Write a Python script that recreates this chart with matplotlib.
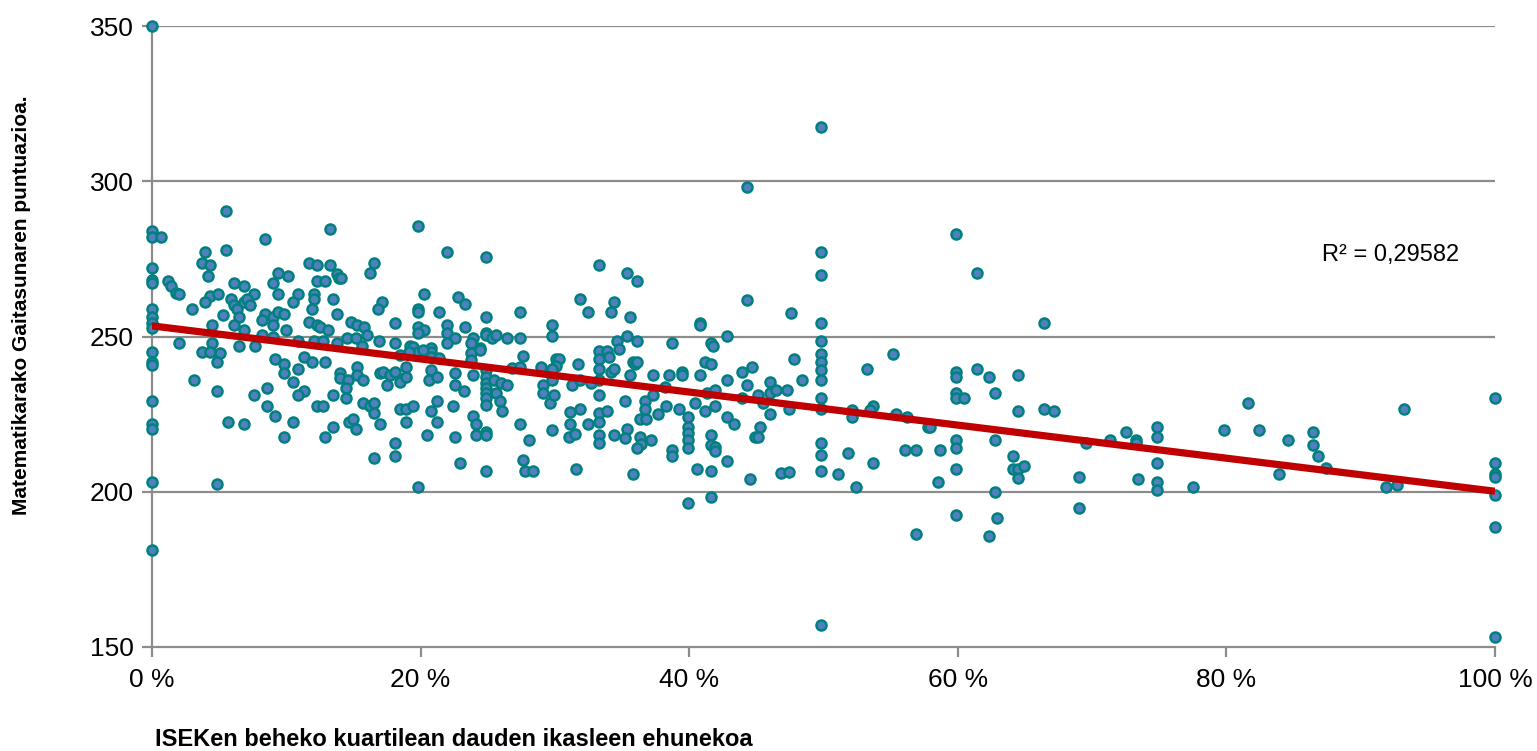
import numpy as np
import matplotlib
matplotlib.use("Agg")
import matplotlib.pyplot as plt
from matplotlib import font_manager

# ---------------- data (x = % of students in lowest ISEK quartile, y = maths score)
x_0 = [0]*18
y_0 = [350, 284, 282, 272.2, 268.2, 267.3, 258.8, 256.4, 254.2, 252.6, 245.1, 241.7, 240.8,
       229.3, 221.8, 220.1, 203.2, 181.2]

pts_a = [(0.65,282),(13.25,284.7),(8.4,281.3),(5.5,290.5),(3.95,277.2),(5.5,278),(3.7,273.8),(4.3,272.9),
 (4.15,269.5),(1.2,268),(1.45,266.3),(1.8,263.9),(2.0,263.7),(11.7,273.8),(12.3,272.9),(13.25,272.9),
 (9.4,270.4),(10.15,269.5),(12.3,268),(12.9,268),(13.75,270),(6.1,267.1),(6.85,266.3),(9.0,267.1),
 (7.6,263.7),(9.4,263.7),(10.9,263.7),(12.05,263.7),(12.05,262),(13.45,262.2),(4.3,263),(4.95,263.7),
 (3.95,261.2),(5.9,262.2),(6.1,260.1),(6.3,258.8),(6.5,256.4),(6.85,261.2),(7.05,262.2),(7.3,260.1),
 (10.5,261.2),(11.9,258.8),(2.95,258.8),(5.3,256.9),(8.4,257.2),(9.0,256.4),(9.4,258),(9.8,257.2),
 (8.2,255.3),(9.0,253.7),(6.1,253.7),(4.5,253.7),(6.85,252.1),(9.95,252.1),(11.7,254.6),(12.25,253.7),
 (12.5,253),(13.1,252.1),(13.75,257.2),(8.2,250.4),(9.0,249.7),(10.9,248.6),(12.05,248.6),(12.7,248.6),
 (2.0,247.8),(4.5,247.8),(3.7,245.1),(4.3,245.1),(5.05,244.6),(6.45,247),(7.65,247),(13.75,247.8),
 (4.85,241.8),(3.15,236),(4.85,232.5),(5.65,222.6),(6.85,221.8),(7.6,231),(8.55,233.5),(8.55,227.6),
 (9.15,224.4),(9.15,242.8),(9.8,241.1),(9.8,238.3),(10.9,239.4),(10.5,235.2),(11.3,232.5),(10.9,231),
 (11.3,243.5),(11.9,241.8),(12.85,241.8),(12.25,227.6),(12.7,227.6),(13.45,231),(10.5,222.6),(9.8,217.5),
 (12.85,217.5),(13.45,220.9),(14.0,238.3),(14.0,236.5),(4.85,202.4)]

pts_b = [(19.8,285.6),(21.95,277.2),(24.9,275.5),(13.9,268.7),(14.1,268.7),(16.55,273.8),(16.2,270.4),
 (17.1,261.2),(16.85,258.8),(20.25,263.7),(22.75,262.8),(23.3,260.4),(19.8,258.8),(19.8,257.8),(21.4,257.8),
 (18.1,254.4),(24.9,256.3),(27.4,257.8),(14.8,254.6),(15.25,253.7),(15.8,253),(16.0,250.4),(19.8,253),
 (20.25,252.1),(19.8,251.2),(22.0,253.7),(22.0,251.2),(23.3,253),(22.55,249.5),(23.9,249.5),(23.75,247.8),
 (24.9,251.2),(24.9,250.4),(25.3,249.5),(25.65,250.4),(26.45,249.5),(27.4,249.5),(22.0,247.8),(16.9,248.6),
 (18.1,247.8),(14.5,249.5),(15.2,249.5),(15.6,247),(19.2,247),(19.45,246.7),(19.8,245.1),(20.8,246.2),
 (24.45,246.2),(23.75,244.6),(27.65,243.8),
 (14.6,236),(15.25,240.3),(15.25,237.6),(15.7,236),(14.45,233.3),(14.45,230.1),(17.0,238.1),(17.2,238.7),
 (17.7,237.6),(18.1,238.7),(18.45,235.2),(18.9,237),(18.9,240.3),(17.5,234.4),(15.7,228.7),(16.2,227.6),
 (16.5,228.7),(16.5,225.3),(17.0,221.8),(14.7,222.6),(15.0,223.4),(15.2,220.1),(18.45,226.8),(18.9,226.8),
 (19.45,227.6),(18.9,222.6),(18.1,215.8),(18.1,211.5),(16.55,210.8),(19.8,201.6),(20.8,245.1),(20.8,243.3),
 (21.4,243),(20.8,239.2),(20.6,236),(21.2,237),(18.45,244),(19.1,245.1),(20.2,245.6),(21.2,229.2),
 (20.8,225.9),(21.2,222.6),(20.45,218.4),(22.4,227.6),(22.55,217.5),(22.9,209.2),(22.55,238.3),(22.55,234.4),
 (23.2,232.5),(23.75,242.5),(23.9,237.6),(24.45,245.6),(24.9,239.2),(24.9,237),(24.9,234.9),(24.9,233.3),
 (24.9,231.7),(24.9,230.1),(24.9,227.9),(25.45,236),(26.0,234.9),(26.4,234.4),(25.65,231.7),(25.9,229.3),
 (26.05,225.9),(23.9,224.4),(24.1,221.8),(24.1,218.4),(24.9,219.3),(24.9,218.4),(24.9,206.7),(27.4,221.8),
 (27.6,210.2),(27.8,206.7),(26.8,239.7),(27.4,240.3),(28.1,216.7)]

pts_c = [(33.25,272.9),(35.4,270.4),(36.15,267.9),(31.85,262),(34.4,261.2),(32.5,257.9),(34.2,257.9),
 (35.6,256.2),(29.75,253.7),(29.75,250.3),(40.8,254.4),(40.8,253.6),(34.6,248.6),(35.4,250.3),(36.15,248.6),
 (34.8,246.1),(38.7,247.8),(41.6,247.8),(41.8,246.9),(33.25,245.3),(33.85,245.3),(34.05,243.5),(33.25,242.8),
 (30.1,242.8),(30.3,242.8),(30.1,240.5),(28.95,240.3),(29.75,239.4),(31.7,241),(33.25,239.4),(34.2,238.6),
 (34.4,239.4),(35.6,237.7),(35.8,241.9),(36.0,241),(36.15,241.9),(37.3,237.7),(38.5,237.7),(39.5,238.6),
 (39.5,237.7),(40.8,237.7),(41.2,241.9),(41.6,241),
 (29.15,234.4),(29.15,231.7),(29.6,228.5),(29.95,231),(29.75,236),(31.3,234.4),(31.85,236),(32.7,234.9),
 (33.25,236),(33.25,231.2),(33.25,225.3),(33.25,222.6),(33.85,226.1),(33.25,218.3),(33.25,215.8),(34.4,218.3),
 (31.1,225.7),(31.85,226.8),(31.1,221.7),(32.5,221.7),(31.05,217.7),(31.5,218.5),(29.75,219.9),(28.4,206.6),
 (31.55,207.4),(35.2,229.2),(35.4,220.1),(35.2,217.4),(36.3,223.3),(36.8,223.3),(36.3,217.7),(36.4,215.4),
 (36.1,214),(37.15,216.7),(36.7,229.3),(36.7,226.7),(35.8,205.7),(37.3,231.2),(38.2,233.6),(37.7,224.9),
 (38.3,227.6),(39.25,226.7),(39.9,224.2),(40.45,228.5),(41.2,225.9),(41.95,227.6),(38.7,213.4),(38.7,211.5),
 (39.9,221),(39.9,218.8),(39.9,216.7),(39.9,214),(41.6,218.3),(41.6,215.1),(41.95,214.3),(41.95,213.2),
 (40.6,207.4),(41.6,206.6),(39.9,196.5),(41.6,198.2),(41.3,231.7),(41.9,232.8)]

pts_d = [(44.3,261.8),(47.6,257.7),(49.8,254.4),(42.8,250.3),(49.8,248.6),(49.8,244.4),(49.8,241.8),
 (49.8,239.3),(49.8,236),(49.8,230.1),(49.8,226.5),(47.8,242.7),(55.2,244.4),(53.25,239.4),(43.9,238.6),
 (44.7,240.3),(42.8,236),(44.3,234.3),(45.1,231),(46.05,235.2),(46.05,231.8),(46.45,232.7),(47.25,232.7),
 (48.4,236),(43.9,230.1),(45.5,228.5),(47.4,226.6),(46.05,225.1),(42.8,224.2),(43.35,221.7),(45.3,221),
 (44.9,217.5),(45.1,217.5),(42.8,209.9),(44.5,204),(46.85,205.9),(47.4,206.5),(49.8,215.8),(49.8,211.7),
 (49.8,206.6),(51.1,205.8),(51.85,212.4),(52.1,226.3),(52.1,224.2),(53.65,227.6),(53.45,226.3),(53.65,209.2),
 (52.45,201.6),(55.4,225.2),(56.2,224),(56.1,213.4),
 (44.3,298.1),(49.8,317.5),(49.8,277.2),(49.8,269.8),(49.8,157.1)]

pts_e = [(59.85,283),(61.4,270.4),(66.45,254.4),(59.85,238.6),(59.85,236.9),(61.4,239.4),(62.35,236.9),
 (64.5,237.7),(59.85,231.9),(59.85,230.1),(60.45,230.1),(62.75,231.9),(64.5,225.9),(66.45,226.8),(67.2,225.9),
 (57.75,221),(57.9,220.7),(56.9,213.4),(58.65,213.4),(59.85,216.7),(59.85,214),(62.75,216.7),(59.85,207.4),
 (58.5,203.2),(64.1,211.6),(64.1,207.4),(64.5,207.4),(64.9,208.3),(64.5,204.3),(69.0,204.9),(62.75,199.9),
 (69.0,194.9),(59.85,192.4),(62.95,191.5),(56.9,186.5),(62.35,185.7),(69.55,215.6)]

pts_f = [(81.6,228.5),(93.25,226.8),(100,230.1),(79.85,220),(82.4,220),(74.8,220.9),(74.8,217.5),
 (72.5,219.2),(73.3,216.7),(73.3,215.8),(71.35,216.7),(84.55,216.7),(86.45,219.2),(86.45,215),(86.85,211.6),
 (87.45,207.5),(74.8,209.2),(74.8,203.2),(74.8,200.5),(73.45,204.1),(77.5,201.5),(83.9,205.7),(91.9,201.5),
 (92.7,202.3),(100,209.2),(100,205.7),(100,204.8),(100,198.8),(100,188.8),(100,153.2)]

r2_label = "R² = 0,29582"
x_ticks = [0, 20, 40, 60, 80, 100]
x_ticklabels = ["0 %", "20 %", "40 %", "60 %", "80 %", "100 %"]
y_ticks = [150, 200, 250, 300, 350]
x_title = "ISEKen beheko kuartilean dauden ikasleen ehunekoa"
y_title = "Matematikarako Gaitasunaren puntuazioa."

# ---------------- assemble
all_pts = pts_a + pts_b + pts_c + pts_d + pts_e + pts_f
xs = np.array(x_0 + [p[0] for p in all_pts], dtype=float)
ys = np.array(y_0 + [p[1] for p in all_pts], dtype=float)

names = {f.name for f in font_manager.fontManager.ttflist}
narrow = ['Liberation Sans Narrow'] if 'Liberation Sans Narrow' in names else []
plt.rcParams['font.family'] = ['Liberation Sans', 'DejaVu Sans']

W, H = 1537, 751
fig = plt.figure(figsize=(W/100, H/100), dpi=100)
ax = fig.add_axes([152/W, 1-647/H, (1495-152)/W, (647-26)/H])

grid_c = '#8c8c8c'
ax.set_xlim(0, 100)
ax.set_ylim(150, 350)
for yv in y_ticks[1:]:
    ax.axhline(yv, color=grid_c, lw=1.6, zorder=1)

for s in ['top', 'right']:
    ax.spines[s].set_visible(False)
for s in ['left', 'bottom']:
    ax.spines[s].set_color(grid_c)
    ax.spines[s].set_linewidth(1.6)

ax.set_xticks(x_ticks)
ax.set_xticklabels(x_ticklabels, fontsize=19)
ax.set_yticks(y_ticks)
ax.set_yticklabels([str(v) for v in y_ticks], fontsize=19)
ax.tick_params(axis='both', color=grid_c, width=1.6, length=7, direction='out')
ax.tick_params(axis='x', pad=8)
ax.tick_params(axis='y', pad=6)

ax.scatter(xs, ys, s=52, facecolor='#4f81bd', edgecolor='#00807f', linewidths=1.8,
           zorder=3, clip_on=False)

slope, intercept = np.polyfit(xs, ys, 1)
xl = np.array([0, 100])
ax.plot(xl, intercept + slope*xl, color='#c00000', lw=5.2, zorder=4, solid_capstyle='butt')

ax.text(1322/W, 1-255/H, r2_label, transform=fig.transFigure, fontsize=17, va='center', ha='left')

fig.text(22/W, 1-(90+520)/2/H, y_title, rotation=90, ha='center', va='center',
         fontsize=15, fontweight='bold', family=narrow + ['Liberation Sans', 'DejaVu Sans'])
fig.text(155/W, 1-740/H, x_title, ha='left', va='center',
         fontsize=17, fontweight='bold', family=narrow + ['Liberation Sans', 'DejaVu Sans'])

fig.savefig('out.png', dpi=100)
